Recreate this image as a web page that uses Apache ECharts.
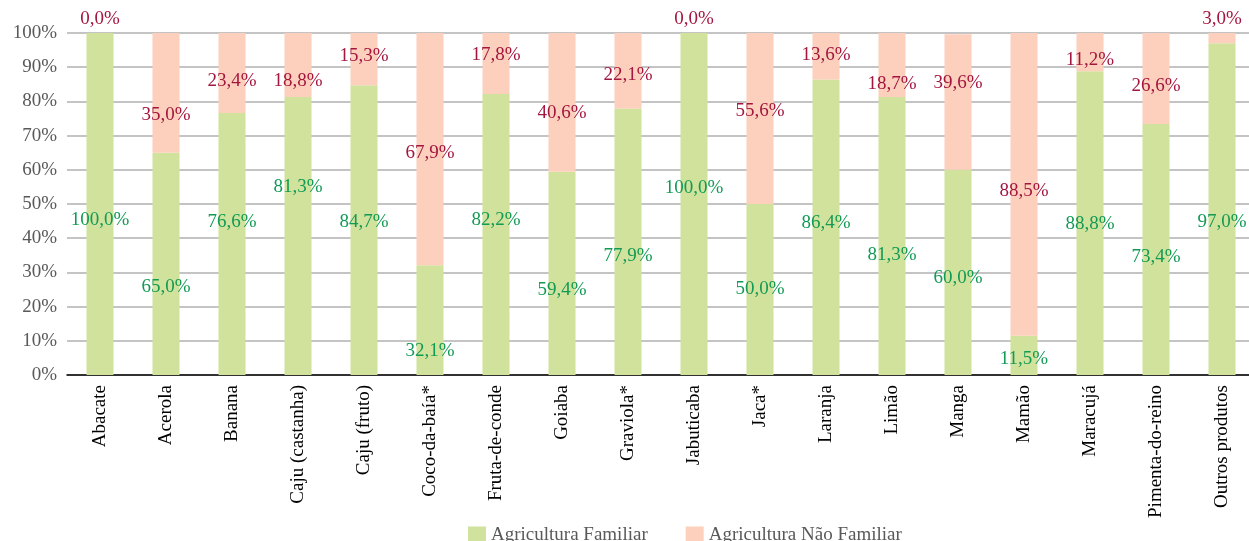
<!DOCTYPE html>
<html>
<head>
<meta charset="utf-8">
<script src="https://cdn.jsdelivr.net/npm/echarts@6/dist/echarts.min.js"></script>
<style>
  html, body { margin: 0; padding: 0; background: #fff; }
  #chart { width: 1249px; height: 541px; }
</style>
</head>
<body>
<div id="chart"></div>
<script>
// categorias (produtos)
const produtos = [
  'Abacate', 'Acerola', 'Banana', 'Caju (castanha)', 'Caju (fruto)', 'Coco-da-baía*',
  'Fruta-de-conde', 'Goiaba', 'Graviola*', 'Jabuticaba', 'Jaca*', 'Laranja',
  'Limão', 'Manga', 'Mamão', 'Maracujá', 'Pimenta-do-reino', 'Outros produtos'
]
// Agricultura Familiar (%)
const familiar = [100.0, 65.0, 76.6, 81.3, 84.7, 32.1, 82.2, 59.4, 77.9, 100.0, 50.0, 86.4, 81.3, 60.0, 11.5, 88.8, 73.4, 97.0]
// Agricultura Não Familiar (%)
const naoFamiliar = [0.0, 35.0, 23.4, 18.8, 15.3, 67.9, 17.8, 40.6, 22.1, 0.0, 55.6, 13.6, 18.7, 39.6, 88.5, 11.2, 26.6, 3.0]
// eixo y
const yTicks = [0, 10, 20, 30, 40, 50, 60, 70, 80, 90, 100]

// deslocamento vertical dos rótulos (px), como no original
const famLabelDy = [16, 23, -22, -49, -8, 31, -14, 17, 14, -16, 0, -4, 19, 6, 4, 1, 8, 13]
const naoLabelDy = [0, 22, 8, 16, -3, 4, -8, 11, 4, 0, -7, -1, 19, -19, 7, 8, 8, 0]

const serif = '"Liberation Serif", "DejaVu Serif", serif'
const fmt = v => v.toFixed(1).replace('.', ',') + '%'

const chart = echarts.init(document.getElementById('chart'))

const famData = familiar.map((v, i) => ({
  value: v,
  label: { offset: [0, famLabelDy[i]] }
}))
const naoData = naoFamiliar.map((v, i) => ({
  value: v,
  label: v < 5
    ? { position: 'top', distance: 4 }
    : { offset: [0, naoLabelDy[i]] }
}))

chart.setOption({
  animation: false,
  textStyle: { fontFamily: serif },
  grid: { left: 67, width: 1188, top: 33, bottom: 166, outerBoundsMode: 'none', containLabel: false },
  legend: {
    left: 463,
    top: 521,
    itemWidth: 18,
    itemHeight: 18,
    itemGap: 38,
    icon: 'rect',
    textStyle: { fontFamily: serif, fontSize: 19, color: '#595959' },
    data: ['Agricultura Familiar', 'Agricultura Não Familiar']
  },
  xAxis: {
    type: 'category',
    data: produtos,
    axisTick: { show: false },
    axisLine: { lineStyle: { color: '#000', width: 1.5 } },
    axisLabel: {
      rotate: 90,
      interval: 0,
      margin: 10,
      fontFamily: serif,
      fontSize: 19,
      color: '#000'
    }
  },
  yAxis: {
    type: 'value',
    min: yTicks[0],
    max: yTicks[yTicks.length - 1],
    interval: yTicks[1] - yTicks[0],
    axisLine: { show: false },
    axisTick: { show: false },
    splitLine: { lineStyle: { color: '#b0b0b0', width: 1.5 } },
    axisLabel: {
      formatter: '{value}%',
      margin: 10,
      fontFamily: serif,
      fontSize: 19,
      color: '#595959'
    }
  },
  series: [
    {
      name: 'Agricultura Familiar',
      type: 'bar',
      stack: 'total',
      barWidth: '41%',
      itemStyle: { color: '#d0e29c' },
      label: {
        show: true,
        position: 'inside',
        formatter: p => fmt(p.value),
        fontFamily: serif,
        fontSize: 19,
        color: '#139a55',
        textBorderWidth: 0
      },
      data: famData
    },
    {
      name: 'Agricultura Não Familiar',
      type: 'bar',
      stack: 'total',
      barWidth: '41%',
      itemStyle: { color: '#fcd0bd' },
      label: {
        show: true,
        position: 'inside',
        formatter: p => fmt(p.value),
        fontFamily: serif,
        fontSize: 19,
        color: '#a3173f',
        textBorderWidth: 0
      },
      data: naoData
    }
  ]
})
</script>
</body>
</html>
